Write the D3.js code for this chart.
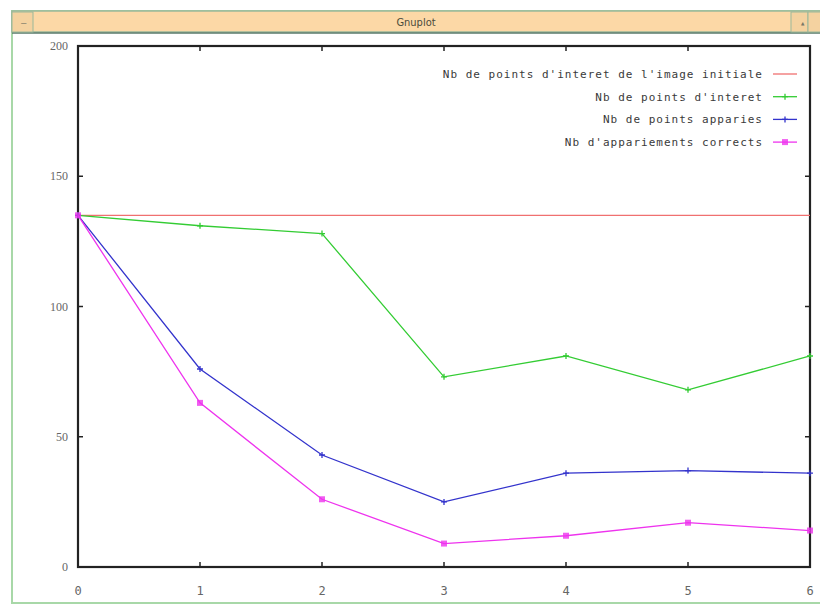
<!DOCTYPE html>
<html>
<head>
<meta charset="utf-8">
<script src="https://cdn.jsdelivr.net/npm/d3@7"></script>
<style>
  body { margin: 0; background: #fff; }
  svg { display: block; }
</style>
</head>
<body>
<div id="chart"></div>
<script>
// data read from the gnuplot window
const xs = [0, 1, 2, 3, 4, 5, 6];
const initial = [135, 135, 135, 135, 135, 135, 135];
const interet = [135, 131, 128, 73, 81, 68, 81];
const apparies = [135, 76, 43, 25, 36, 37, 36];
const corrects = [135, 63, 26, 9, 12, 17, 14];
const yTicks = [0, 50, 100, 150, 200];
const labels = [
  "Nb de points d'interet de l'image initiale",
  "Nb de points d'interet",
  "Nb de points apparies",
  "Nb d'appariements corrects"
];
const colors = ['#f07070', '#33cc33', '#3333cc', '#ee33ee'];

const width = 820, height = 606;
const svg = d3.select('#chart').append('svg')
  .attr('width', width).attr('height', height);

// window frame
svg.append('rect').attr('x', 12).attr('y', 11).attr('width', 820).attr('height', 592)
  .attr('fill', '#fff').attr('stroke', '#a8d8a8').attr('stroke-width', 2);
svg.append('rect').attr('x', 12).attr('y', 11).attr('width', 820).attr('height', 21)
  .attr('fill', '#fcd8a6').attr('stroke', '#9ab89a').attr('stroke-width', 1.5);
svg.append('line').attr('x1', 12).attr('x2', 820).attr('y1', 33).attr('y2', 33)
  .attr('stroke', '#5a7a6a').attr('stroke-width', 1.5);
[[12, 33], [791, 808], [808, 822]].forEach(b => {
  svg.append('rect').attr('x', b[0]).attr('y', 12).attr('width', b[1] - b[0]).attr('height', 20)
    .attr('fill', '#f4d2a0').attr('stroke', '#9ab89a');
});
svg.append('text').attr('x', 21).attr('y', 26).attr('font-size', 9)
  .attr('font-family', 'DejaVu Sans Mono').attr('fill', '#776').text('–');
svg.append('text').attr('x', 800).attr('y', 26).attr('font-size', 9)
  .attr('font-family', 'DejaVu Sans Mono').attr('fill', '#776').text('▴');
svg.append('text').attr('x', 416).attr('y', 26).attr('text-anchor', 'middle')
  .attr('font-family', 'DejaVu Sans Condensed')
  .attr('font-size', 11).attr('fill', '#4a4a3a').text('Gnuplot');

const m = { left: 78, right: 810, top: 46, bottom: 567 };
const x = d3.scaleLinear().domain([0, 6]).range([m.left, m.right]);
const y = d3.scaleLinear().domain([0, 200]).range([m.bottom, m.top]);

const g = svg.append('g');

// ticks (inward) on all four sides
xs.forEach(v => {
  g.append('line').attr('x1', x(v)).attr('x2', x(v)).attr('y1', m.bottom).attr('y2', m.bottom - 5)
    .attr('stroke', '#222').attr('stroke-width', 1.5);
  g.append('line').attr('x1', x(v)).attr('x2', x(v)).attr('y1', m.top).attr('y2', m.top + 5)
    .attr('stroke', '#222').attr('stroke-width', 1.5);
  g.append('text').attr('x', x(v)).attr('y', 595).attr('text-anchor', 'middle')
    .attr('font-family', 'DejaVu Sans Mono').attr('font-size', 12).attr('fill', '#666').text(v);
});
yTicks.forEach(v => {
  g.append('line').attr('x1', m.left).attr('x2', m.left + 5).attr('y1', y(v)).attr('y2', y(v))
    .attr('stroke', '#222').attr('stroke-width', 1.5);
  g.append('line').attr('x1', m.right).attr('x2', m.right - 5).attr('y1', y(v)).attr('y2', y(v))
    .attr('stroke', '#222').attr('stroke-width', 1.5);
  g.append('text').attr('x', 68).attr('y', y(v) + 4).attr('text-anchor', 'end')
    .attr('font-family', 'Liberation Serif').attr('font-size', 12).attr('fill', '#666').text(v);
});

// plot border
g.append('rect').attr('x', m.left).attr('y', m.top)
  .attr('width', m.right - m.left).attr('height', m.bottom - m.top)
  .attr('fill', 'none').attr('stroke', '#222').attr('stroke-width', 2.2);

const line = d3.line().x((d, i) => x(xs[i])).y(d => y(d));
const series = [initial, interet, apparies, corrects];

function marker(sel, cx, cy, i) {
  if (i === 0) return;
  if (i === 3) {
    sel.append('rect').attr('x', cx - 3).attr('y', cy - 3).attr('width', 6).attr('height', 6)
      .attr('fill', colors[i]).attr('opacity', 0.8);
  } else {
    sel.append('path').attr('d', `M${cx - 3},${cy}H${cx + 3}M${cx},${cy - 3}V${cy + 3}`)
      .attr('stroke', colors[i]).attr('stroke-width', 1.3);
  }
}

series.forEach((s, i) => {
  g.append('path').datum(s).attr('d', line)
    .attr('fill', 'none').attr('stroke', colors[i]).attr('stroke-width', 1.3);
  s.forEach((v, j) => marker(g, x(xs[j]), y(v), i));
});

// legend (wide X11 fixed font look)
labels.forEach((t, i) => {
  const ly = 74 + i * 22.7;
  g.append('text').attr('x', 763).attr('y', ly + 4).attr('text-anchor', 'end')
    .attr('font-family', 'DejaVu Sans Mono').attr('font-size', 11)
    .attr('letter-spacing', 1).attr('fill', '#3a3a3a')
    .text(t);
  g.append('line').attr('x1', 773).attr('x2', 797).attr('y1', ly).attr('y2', ly)
    .attr('stroke', colors[i]).attr('stroke-width', 1.3);
  marker(g, 785, ly, i);
});
</script>
</body>
</html>
